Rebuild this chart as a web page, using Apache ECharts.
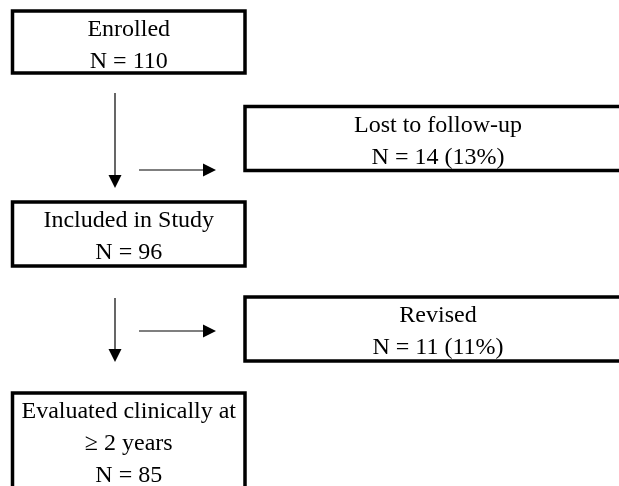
<!DOCTYPE html>
<html>
<head>
<meta charset="utf-8">
<script src="https://cdn.jsdelivr.net/npm/echarts@6/dist/echarts.min.js"></script>
<style>
html,body{margin:0;padding:0;background:#fff;}
#c{width:619px;height:486px;}
</style>
</head>
<body>
<div id="c"></div>
<script>
// ---- data ----
const mainLabels = ['Enrolled', 'Included in Study', 'Evaluated clinically at\n≥ 2 years'];
const mainN = [110, 96, 85];
const sideLabels = ['Lost to follow-up', 'Revised'];
const sideN = [14, 11];
const sidePct = [13, 11];

// ---- layout (pixel space of the canvas) ----
const L = {
  mainX: [12.5, 245],
  mainTop: [11, 202, 393],
  mainH: [62, 64, 110],
  sideX: [245, 631],
  sideTop: [106.5, 297],
  sideH: [64, 64],
  arrowDownX: 115,
  arrowDownY: [[93, 188], [298, 362]],
  arrowRightY: [170, 331],
  arrowRightX: [139, 216],
  head: 13,
  font: 24,
  lineH: 32
};

const chart = echarts.init(document.getElementById('c'), null, {renderer: 'canvas'});

const boxData = [];
mainLabels.forEach((t, i) => boxData.push({value: [0, i], text: t + '\nN = ' + mainN[i]}));
sideLabels.forEach((t, i) => boxData.push({value: [1, i], text: t + '\nN = ' + sideN[i] + ' (' + sidePct[i] + '%)'}));

function boxRender(params, api) {
  const item = boxData[params.dataIndex];
  const kind = api.value(0), row = api.value(1);
  const xs = kind === 0 ? L.mainX : L.sideX;
  const top = kind === 0 ? L.mainTop[row] : L.sideTop[row];
  const h = kind === 0 ? L.mainH[row] : L.sideH[row];
  const p0 = api.coord([xs[0], top]);
  const p1 = api.coord([xs[1], top + h]);
  return {
    type: 'group',
    children: [
      {type: 'rect', shape: {x: p0[0], y: p0[1], width: p1[0] - p0[0], height: p1[1] - p0[1]},
       style: {fill: '#fff', stroke: '#000', lineWidth: 3.5}},
      {type: 'text', x: (p0[0] + p1[0]) / 2, y: p0[1] + 3,
       style: {text: item.text, fill: '#000', font: L.font + 'px "Liberation Serif", "Times New Roman", serif',
               align: 'center', verticalAlign: 'top', lineHeight: L.lineH}}
    ]
  };
}

const arrowData = [];
L.arrowDownY.forEach((r, i) => arrowData.push([0, i]));
L.arrowRightY.forEach((r, i) => arrowData.push([1, i]));

function arrowRender(params, api) {
  const kind = api.value(0), i = api.value(1);
  const hd = L.head;
  let a, b, poly;
  if (kind === 0) {
    a = api.coord([L.arrowDownX, L.arrowDownY[i][0]]);
    b = api.coord([L.arrowDownX, L.arrowDownY[i][1]]);
    poly = [[b[0] - hd / 2, b[1] - hd], [b[0] + hd / 2, b[1] - hd], [b[0], b[1]]];
    b = [b[0], b[1] - hd];
  } else {
    a = api.coord([L.arrowRightX[0], L.arrowRightY[i]]);
    b = api.coord([L.arrowRightX[1], L.arrowRightY[i]]);
    poly = [[b[0] - hd, b[1] - hd / 2], [b[0] - hd, b[1] + hd / 2], [b[0], b[1]]];
    b = [b[0] - hd, b[1]];
  }
  return {
    type: 'group',
    children: [
      {type: 'line', shape: {x1: a[0], y1: a[1], x2: b[0], y2: b[1]}, style: {stroke: '#000', lineWidth: 1.2}},
      {type: 'polygon', shape: {points: poly}, style: {fill: '#000'}}
    ]
  };
}

chart.setOption({
  animation: false,
  backgroundColor: '#fff',
  grid: {left: 0, right: 0, top: 0, bottom: 0},
  xAxis: {type: 'value', min: 0, max: 619, show: false},
  yAxis: {type: 'value', min: 0, max: 486, inverse: true, show: false},
  series: [
    {type: 'custom', renderItem: boxRender, data: boxData.map(d => d.value), clip: false},
    {type: 'custom', renderItem: arrowRender, data: arrowData, clip: false}
  ]
});
</script>
</body>
</html>
